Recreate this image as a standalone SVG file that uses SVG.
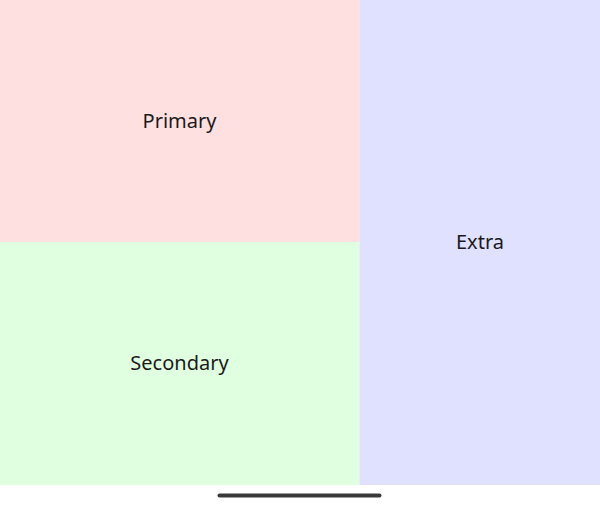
<svg xmlns="http://www.w3.org/2000/svg" width="600" height="506" viewBox="0 0 600 506">
<style>
.lbl{font-family:"Noto Sans","Liberation Sans",sans-serif;font-size:20px;fill:#1a1a1a;text-anchor:middle;dominant-baseline:central}
</style>
<rect width="600" height="506" fill="#ffffff"/>
<g id="primary"><rect x="0" y="0" width="359.5" height="242" fill="#ffe0e0"/><text class="lbl" x="179.5" y="120">Primary</text></g>
<g id="secondary"><rect x="0" y="242" width="359.5" height="243" fill="#e0ffe0"/><text class="lbl" x="179.5" y="362">Secondary</text></g>
<g id="extra"><rect x="359.5" y="0" width="240.5" height="485" fill="#e0e0ff"/><text class="lbl" x="480" y="241">Extra</text></g>
<g id="connectors"/>
<rect x="217.5" y="493.5" width="164" height="4" rx="2" fill="#3a3a3a"/>
</svg>
